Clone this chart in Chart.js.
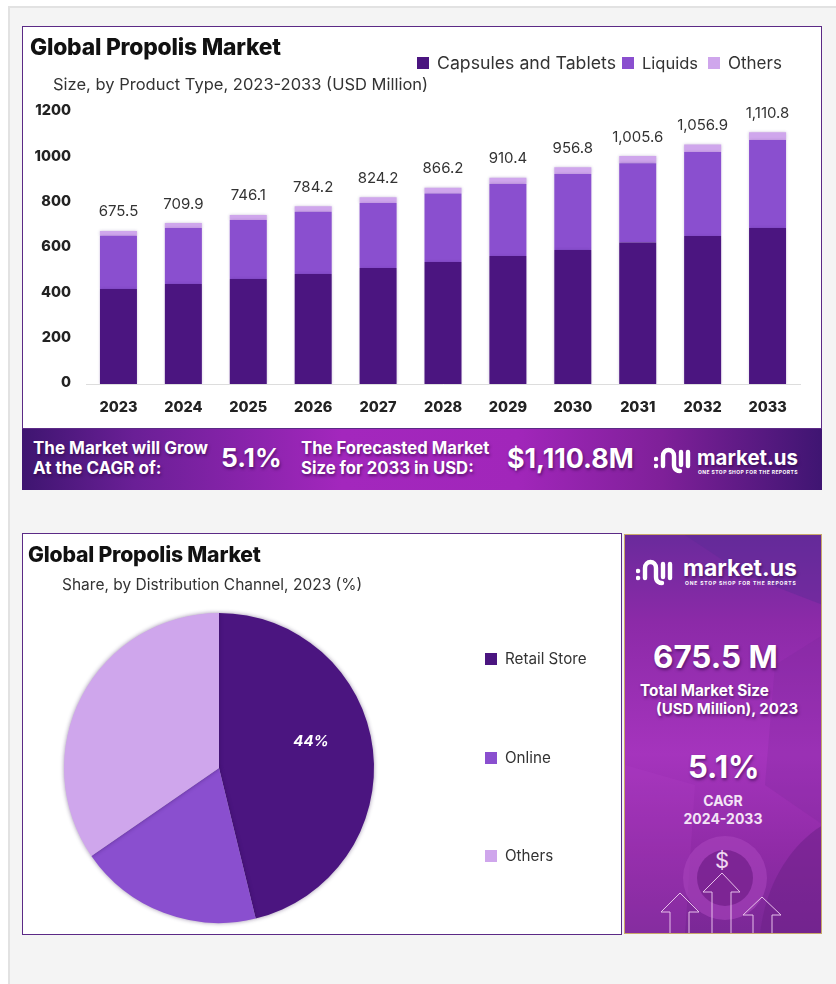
<!DOCTYPE html>
<html>
<head>
<meta charset="utf-8">
<title>Global Propolis Market</title>
<script src="https://cdn.jsdelivr.net/npm/chart.js@4"></script>
<style>
  html, body { margin: 0; padding: 0; }
  body { width: 836px; height: 984px; position: relative; overflow: hidden; background: #fff; font-family: Inter, sans-serif; color: #111; }
  .abs { position: absolute; white-space: nowrap; }
  #frame { left: 8px; top: 6px; width: 828px; height: 978px; background: #f4f4f4; border-left: 2px solid #e2e2e2; border-top: 2px solid #e2e2e2; box-sizing: border-box; }
  .card { background: #fff; border: 1.5px solid #5b2a86; box-sizing: border-box; }
  canvas { position: absolute; }
  .title { font-weight: 800; font-size: 22.8px; letter-spacing: -0.2px; }
  .sub { font-size: 16.5px; color: #333; }
  .leg { color: #333; }
  .swatch { position: absolute; width: 12px; height: 12px; }
  #banner { left: 22px; top: 429px; width: 800px; height: 61px; background: linear-gradient(90deg, #3e1570 0%, #6a1f96 14%, #a327bd 40%, #a126ba 62%, #7f2099 80%, #3f1572 100%); }
  #side { left: 624px; top: 534px; width: 198px; height: 400px; overflow: hidden; background: linear-gradient(180deg, #6a2a9c 0%, #8c2aa8 22%, #a534bd 55%, #8f2ba6 80%, #7a2896 100%); border: 1px solid #c9a86a; box-sizing: border-box; }
  .w { color: #fff; font-weight: 700; text-shadow: 1px 2px 3px rgba(40,0,60,.55); }
</style>
</head>
<body>
<div class="abs" id="frame"></div>

<div class="abs card" style="left:22px;top:26px;width:800px;height:403px"></div>
<canvas id="bars" style="left:23px;top:27px" width="797" height="400"></canvas>
<div class="abs title" style="left:30px;top:33px">Global Propolis Market</div>
<div class="abs sub" style="left:53px;top:74px">Size, by Product Type, 2023-2033 (USD Million)</div>
<div id="barLegend"></div>

<div class="abs" id="banner"></div>
<div class="abs w" style="left:33px;top:438px;font-size:17px;line-height:20px">The Market will Grow<br>At the CAGR of:</div>
<div class="abs w" style="left:221px;top:442px;font-size:26.3px">5.1%</div>
<div class="abs w" style="left:301px;top:438px;font-size:16.7px;line-height:20px">The Forecasted Market<br>Size for 2033 in USD:</div>
<div class="abs w" style="left:507px;top:442px;font-size:26.8px">$1,110.8M</div>
<svg class="abs" style="left:654px;top:445px" width="38" height="30" viewBox="0 0 38 30" fill="none" stroke="#fff" stroke-width="4.4" stroke-linecap="round">
  <path d="M2 14h.1M2 21h.1M9 21V11c0-8 11-8 11 0v9c0 5 4 6 6 6M27 20V7M34 21V7"/>
</svg>
<div class="abs w" style="left:697px;top:445px;font-size:20.4px">market.us</div>
<div class="abs" style="left:698px;top:469px;font-size:5px;font-weight:700;color:#fff;letter-spacing:.42px">ONE STOP SHOP FOR THE REPORTS</div>

<div class="abs card" style="left:22px;top:533px;width:600px;height:402px"></div>
<canvas id="pie" style="left:23px;top:535px" width="597" height="398"></canvas>
<div class="abs title" style="left:28px;top:541px;font-size:21.2px">Global Propolis Market</div>
<div class="abs sub" style="left:62px;top:575px;font-size:15.5px">Share, by Distribution Channel, 2023 (%)</div>
<div id="pieLegend"></div>

<div class="abs" id="side">
  <svg class="abs" style="left:0;top:0" width="198" height="400" fill="none">
    <path d="M60 0H198V70L120 40Z" fill="#5d2a96" opacity=".45"/>
    <path d="M150 130L198 100V290L140 250Z" fill="#7d269c" opacity=".25"/>
    <path d="M0 230L70 250L60 400H0Z" fill="#b33fca" opacity=".2"/>
    <circle cx="100" cy="343" r="42" fill="#a845bd" opacity=".6"/>
    <circle cx="100" cy="343" r="28" fill="#7a2391" opacity=".9"/>
    <path d="M198 290C165 310 140 350 135 400H198Z" fill="#6d2188" opacity=".55"/>
    <g stroke="#e6bfe9" stroke-width="1">
      <path d="M45 400V377H36L55 358L74 377H64V400"/>
      <path d="M87 400V357H78L97 338L115 357H106V400"/>
      <path d="M128 400V380H118L137 362L156 380H147V400"/>
    </g>
  </svg>
  <svg class="abs" style="left:11px;top:22px" width="38" height="30" viewBox="0 0 38 30" fill="none" stroke="#fff" stroke-width="4.4" stroke-linecap="round">
    <path d="M2 14h.1M2 21h.1M9 21V11c0-8 11-8 11 0v9c0 5 4 6 6 6M27 20V7M34 21V7"/>
  </svg>
  <div class="abs w" style="left:58px;top:19px;font-size:23px">market.us</div>
  <div class="abs" style="left:60px;top:45px;font-size:5px;font-weight:700;color:#fff;letter-spacing:.82px">ONE STOP SHOP FOR THE REPORTS</div>
  <div class="abs w" style="left:28px;top:103px;font-size:31.4px">675.5 M</div>
  <div class="abs w" style="left:15px;top:146px;font-size:15.3px">Total Market Size</div>
  <div class="abs w" style="left:31px;top:164px;font-size:15px">(USD Million), 2023</div>
  <div class="abs w" style="left:63px;top:213px;font-size:31px">5.1%</div>
  <div class="abs" style="left:0;width:196px;text-align:center;top:257px;font-size:14px;line-height:18px;font-weight:700;color:#f3e4f6;white-space:normal">CAGR<br>2024-2033</div>
  <div class="abs" style="left:90px;top:312px;font-size:22px;color:#f0d9f2">$</div>
</div>

<script>
const years = ['2023', '2024', '2025', '2026', '2027', '2028', '2029', '2030', '2031', '2032', '2033'];
const capsules = [419, 441, 463, 485, 512, 538, 565, 591, 624, 653, 688];
const liquids = [235, 247, 260, 275, 287, 302, 317, 336, 350, 371, 388];
const others = [21.5, 21.9, 23.1, 24.2, 25.2, 26.2, 28.4, 29.8, 31.6, 32.9, 34.8];
const totals = ['675.5', '709.9', '746.1', '784.2', '824.2', '866.2', '910.4', '956.8', '1,005.6', '1,056.9', '1,110.8'];
const totalValues = [675.5, 709.9, 746.1, 784.2, 824.2, 866.2, 910.4, 956.8, 1005.6, 1056.9, 1110.8];

const channels = ['Retail Store', 'Online', 'Others'];
// slice sizes as drawn in the picture, the printed label says 44%
const channelShare = [46.2, 19.2, 34.6];
const channelLabels = ['44%', '', ''];

const dark = '#4b1580';
const mid = '#8a4fcf';
const light = '#cfa6ec';
const colors = [dark, mid, light];

// soft edge round the marks
const softShadow = {
  id: 'softShadow',
  beforeDatasetsDraw(chart, args, opts) {
    chart.ctx.save();
    chart.ctx.shadowColor = opts.color;
    chart.ctx.shadowBlur = opts.blur;
  },
  afterDatasetsDraw(chart) {
    chart.ctx.restore();
  },
};

const barTotals = {
  id: 'barTotals',
  afterDatasetsDraw(chart) {
    const { ctx, scales } = chart;
    ctx.save();
    ctx.font = '15px Inter';
    ctx.fillStyle = '#333';
    ctx.textAlign = 'center';
    ctx.textBaseline = 'middle';
    totals.forEach((t, i) => {
      ctx.fillText(t, scales.x.getPixelForValue(i), scales.y.getPixelForValue(totalValues[i]) - 19);
    });
    ctx.restore();
  },
};

const sliceLabel = {
  id: 'sliceLabel',
  afterDatasetsDraw(chart) {
    const { ctx, chartArea } = chart;
    ctx.save();
    ctx.font = 'italic 700 15px Inter';
    ctx.fillStyle = '#fff';
    ctx.textAlign = 'center';
    ctx.textBaseline = 'middle';
    ctx.fillText(channelLabels[0], (chartArea.left + chartArea.right) / 2 + 92, (chartArea.top + chartArea.bottom) / 2 - 27);
    ctx.restore();
  },
};

function dataset(label, data, color) {
  return { label, data, backgroundColor: color, barPercentage: 0.57, categoryPercentage: 1 };
}

new Chart(document.getElementById('bars'), {
  type: 'bar',
  data: {
    labels: years,
    datasets: [dataset('Capsules and Tablets', capsules, dark), dataset('Liquids', liquids, mid), dataset('Others', others, light)],
  },
  options: {
    responsive: false,
    animation: false,
    layout: { padding: { left: 0, right: 20, top: 85, bottom: 0 } },
    plugins: {
      legend: { display: false },
      tooltip: { enabled: false },
      softShadow: { color: 'rgba(70,30,120,.3)', blur: 3 },
    },
    scales: {
      x: {
        stacked: true,
        grid: { display: false },
        border: { color: '#ddd' },
        ticks: { color: '#222', padding: 7, font: { family: 'Inter', size: 14.5, weight: '800' } },
        afterFit(s) { s.height = 43; },
      },
      y: {
        stacked: true,
        min: 0,
        max: 1200,
        grid: { display: false, drawTicks: false },
        border: { display: false },
        ticks: {
          stepSize: 200,
          color: '#222',
          padding: 15,
          labelOffset: -1,
          font: { family: 'Inter', size: 14.5, weight: '800' },
          callback: (v) => String(v),
        },
        afterFit(s) { s.width = 63; },
      },
    },
  },
  plugins: [softShadow, barTotals],
});

new Chart(document.getElementById('pie'), {
  type: 'pie',
  data: {
    labels: channels,
    datasets: [{ data: channelShare, backgroundColor: colors, borderWidth: 0 }],
  },
  options: {
    responsive: false,
    animation: false,
    layout: { padding: { left: 41, right: 246, top: 78, bottom: 10 } },
    plugins: {
      legend: { display: false },
      tooltip: { enabled: false },
      softShadow: { color: 'rgba(40,10,70,.45)', blur: 4 },
    },
  },
  plugins: [softShadow, sliceLabel],
});

function legendItem(box, text, color, x, y, font) {
  const s = document.createElement('div');
  s.className = 'swatch';
  s.style.cssText = `left:${x}px;top:${y - 6}px;background:${color}`;
  const t = document.createElement('div');
  t.className = 'abs leg';
  t.textContent = text;
  t.style.cssText = `left:${x + 20}px;top:${y - 11}px;font-size:${font}px;line-height:22px`;
  box.append(s, t);
}

const barLegend = document.getElementById('barLegend');
['Capsules and Tablets', 'Liquids', 'Others'].forEach((name, i) => {
  legendItem(barLegend, name, colors[i], [417, 622, 708][i], 63, [17.7, 16.5, 17][i]);
});
const pieLegend = document.getElementById('pieLegend');
channels.forEach((name, i) => {
  legendItem(pieLegend, name, colors[i], 485, [659, 758, 856][i], 15.2);
});
</script>
</body>
</html>
